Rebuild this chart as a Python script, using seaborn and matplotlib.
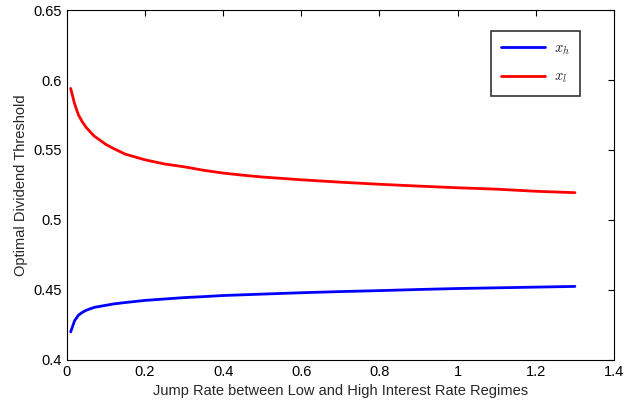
import pandas as pd
import seaborn as sns
import matplotlib.pyplot as plt

# Values
jump_rate = [0.01, 0.02, 0.03, 0.04, 0.05, 0.06, 0.07, 0.08, 0.10, 0.12, 0.15,
             0.20, 0.25, 0.30, 0.35, 0.40, 0.45, 0.50, 0.60, 0.70, 0.80, 0.90, 1.00,
             1.10, 1.20, 1.30]
x_high = [0.420, 0.428, 0.432, 0.434, 0.4355, 0.4365, 0.4375, 0.438, 0.439, 0.440, 0.441,
          0.4425, 0.4435, 0.4445, 0.4452, 0.446, 0.4465, 0.447, 0.448, 0.4488, 0.4495,
          0.4503, 0.451, 0.4515, 0.452, 0.4525]
x_low = [0.594, 0.583, 0.575, 0.570, 0.566, 0.563, 0.560, 0.558, 0.554, 0.551, 0.547,
         0.543, 0.540, 0.538, 0.5355, 0.5335, 0.532, 0.5307, 0.5287, 0.527, 0.5255,
         0.5242, 0.523, 0.522, 0.5205, 0.5195]

df = pd.DataFrame({
    'rate': jump_rate * 2,
    'threshold': x_high + x_low,
    'series': ['$x_h$'] * len(jump_rate) + ['$x_l$'] * len(jump_rate),
})

sns.set_style('white')
plt.rcParams['font.family'] = ['Liberation Sans', 'DejaVu Sans']
plt.rcParams['mathtext.fontset'] = 'cm'

fig = plt.figure(figsize=(6.24, 4.03), dpi=100)
ax = fig.add_axes([0.107, 0.107, 0.877, 0.868])
sns.lineplot(data=df, x='rate', y='threshold', hue='series',
             palette=['#0000ff', '#ff0000'], linewidth=2, ax=ax)

ax.set_xlim(0, 1.4)
ax.set_ylim(0.4, 0.65)
ax.set_xticks([0, 0.2, 0.4, 0.6, 0.8, 1, 1.2, 1.4])
ax.set_xticklabels(['0', '0.2', '0.4', '0.6', '0.8', '1', '1.2', '1.4'])
ax.set_yticks([0.4, 0.45, 0.5, 0.55, 0.6, 0.65])
ax.set_yticklabels(['0.4', '0.45', '0.5', '0.55', '0.6', '0.65'])
ax.tick_params(direction='in', top=True, right=True, length=4, width=0.8,
               labelsize=10.5, colors='black')
for s in ax.spines.values():
    s.set_color('black')
    s.set_linewidth(0.8)

ax.set_xlabel('Jump Rate between Low and High Interest Rate Regimes', fontsize=10.5)
ax.set_ylabel('Optimal Dividend Threshold', fontsize=10.5)

leg = ax.legend(loc='upper right', bbox_to_anchor=(0.938, 0.94), borderaxespad=0,
                fontsize=10.5, frameon=True, fancybox=False, handlelength=3.0,
                borderpad=0.7, labelspacing=0.9, handletextpad=0.6)
leg.get_frame().set_edgecolor('black')
leg.get_frame().set_linewidth(1.2)
leg.set_title(None)

fig.savefig('out.png', dpi=100)
